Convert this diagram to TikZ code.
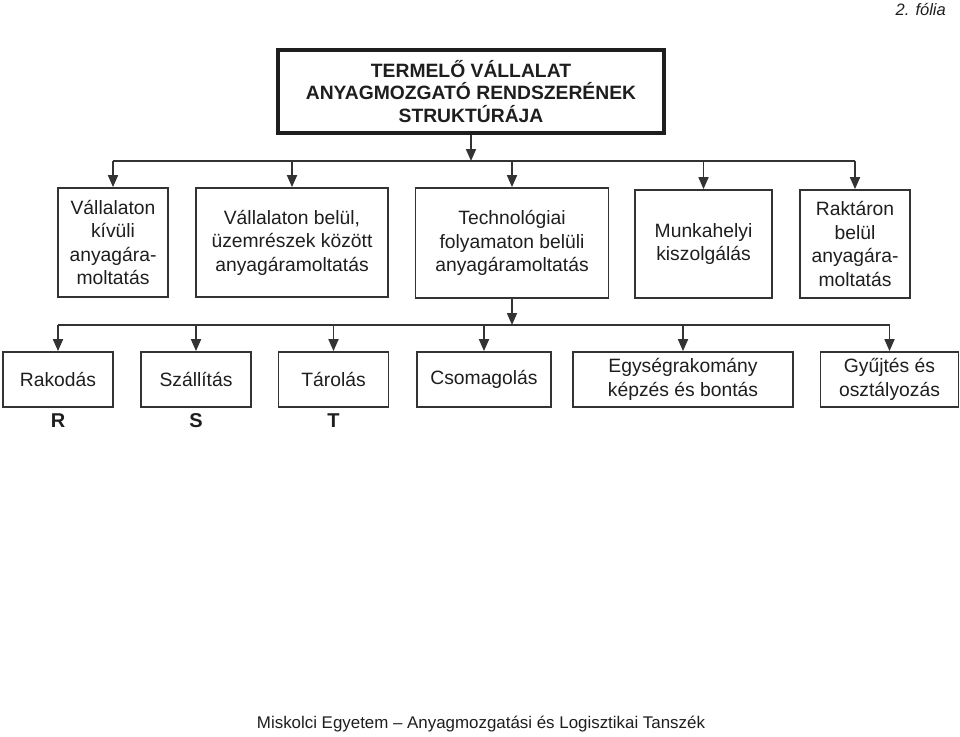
\documentclass[tikz,border=0pt]{standalone}
\usepackage{fontspec}
\setmainfont{Liberation Sans}
\usetikzlibrary{arrows.meta}
\definecolor{ink}{HTML}{1E1E1E}
\definecolor{lin}{HTML}{333333}
\tikzset{
  box/.style={draw=lin, line width=1.8pt, rectangle, align=center, inner sep=0pt, text=ink,
    font=\fontsize{19.3}{23.5}\selectfont},
  titlebox/.style={draw=ink, line width=3.4pt, rectangle, align=center, inner sep=0pt, text=ink,
    font=\fontsize{19.3}{22.7}\selectfont\bfseries},
  conn/.style={draw=lin, line width=1.8pt},
  arr/.style={conn, -{Triangle[length=12pt,width=10pt]}},
  letter/.style={font=\fontsize{20}{22}\selectfont\bfseries, text=ink, inner sep=0pt}
}
\begin{document}
\begin{tikzpicture}[x=1pt,y=-1pt]
\useasboundingbox (0,0) rectangle (960,736);
\node[titlebox, minimum width=386pt, minimum height=83pt] (title) at (471,91.5)
  {TERMELŐ VÁLLALAT\\ANYAGMOZGATÓ RENDSZERÉNEK\\STRUKTÚRÁJA};

\node[box, minimum width=110pt, minimum height=109pt] (b1) at (113,242.5) {Vállalaton\\kívüli\\anyagára-\\moltatás};
\node[box, minimum width=192pt, minimum height=109pt] (b2) at (292,242.5) {Vállalaton belül,\\üzemrészek között\\anyagáramoltatás};
\node[box, minimum width=193pt, minimum height=110pt] (b3) at (512,243) {Technológiai\\folyamaton belüli\\anyagáramoltatás};
\node[box, minimum width=137pt, minimum height=108pt] (b4) at (703.5,244) {Munkahelyi\\kiszolgálás};
\node[box, minimum width=110pt, minimum height=108pt] (b5) at (855,244) {Raktáron\\belül\\anyagára-\\moltatás};

\node[box, minimum width=110pt, minimum height=55pt] (r1) at (58,379.5) {Rakodás};
\node[box, minimum width=110pt, minimum height=55pt] (r2) at (196,379.5) {Szállítás};
\node[box, minimum width=110pt, minimum height=55pt] (r3) at (333.5,379.5) {Tárolás};
\node[box, minimum width=134pt, minimum height=55pt] (r4) at (484,379.5) {Csomagolás};
\node[box, minimum width=220pt, minimum height=55pt] (r5) at (683,379.5) {Egységrakomány\\képzés és bontás};
\node[box, minimum width=138pt, minimum height=55pt] (r6) at (889.5,379.5) {Gyűjtés és\\osztályozás};

\node[letter] (lr) at (58,421) {R};
\node[letter] (ls) at (196,421) {S};
\node[letter] (lt) at (333.5,421) {T};

\coordinate (bus1) at (0,161);
\coordinate (bus2) at (0,325);

\draw[arr] (title.south) -- (title.south |- bus1);
\draw[conn] (b1.north |- bus1) -- (b5.north |- bus1);
\foreach \n in {b1,b2,b3,b4,b5} \draw[arr] (\n.north |- bus1) -- (\n.north);

\draw[arr] (b3.south) -- (b3.south |- bus2);
\draw[conn] (r1.north |- bus2) -- (r6.north |- bus2);
\foreach \n in {r1,r2,r3,r4,r5,r6} \draw[arr] (\n.north |- bus2) -- (\n.north);

\node[font=\fontsize{16.5}{18}\selectfont\itshape, text=ink, anchor=east, inner sep=0pt] (folia) at (946,10) {2. fólia};
\node[font=\fontsize{16.9}{18}\selectfont, text=ink, inner sep=0pt] (footer) at (481,724) {Miskolci Egyetem – Anyagmozgatási és Logisztikai Tanszék};
\end{tikzpicture}
\end{document}
